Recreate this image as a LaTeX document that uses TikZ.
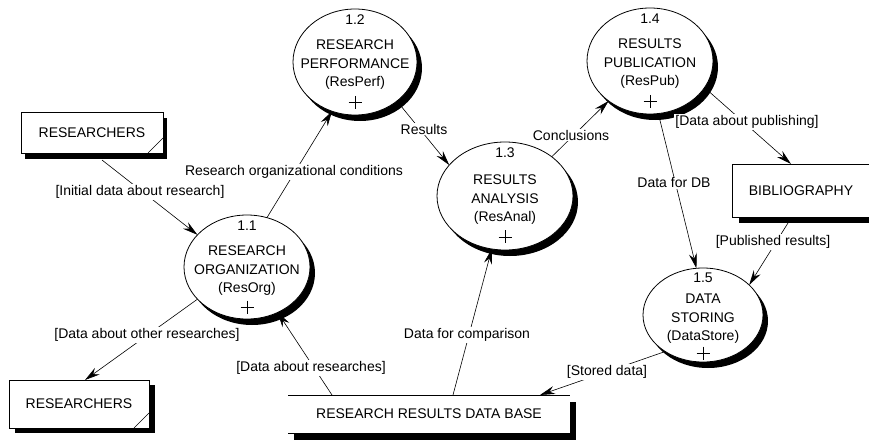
\documentclass[tikz,border=0pt]{standalone}
\usepackage{fontspec}
\setmainfont{Liberation Sans}
\usetikzlibrary{shapes.geometric,arrows.meta,calc}
\tikzset{
  every node/.style={font=\fontsize{14pt}{19pt}\selectfont},
  procshape/.style={ellipse, draw, line width=0.8pt, fill=white, inner sep=0pt, outer sep=0pt},
  procshadow/.style={ellipse, fill=black, inner sep=0pt, outer sep=0pt},
  extbox/.style={draw, line width=0.8pt, fill=white, inner sep=0pt, outer sep=0pt},
  shadowbox/.style={fill=black, inner sep=0pt, outer sep=0pt},
  flow/.style={line width=0.6pt, -{Stealth[length=15pt,width=8pt,inset=5pt]}},
  lbl/.style={fill=white, inner sep=1pt},
  ptxt/.style={anchor=base, inner sep=0pt}
}
\newcommand\procnode[8]{%
  \node[procshadow, minimum width={2*#3pt}, minimum height={2*#4pt}] at ($(#2)+(5,6)$) {};
  \node[procshape, minimum width={2*#3pt}, minimum height={2*#4pt}] (#1) at (#2) {};
  \node[ptxt] at ($(#2)+(0,{-37+0.8*(52-#4)})$) {#5};
  \node[ptxt] at ($(#2)+(0,-12)$) {#6};
  \node[ptxt] at ($(#2)+(0,7)$) {#7};
  \node[ptxt] at ($(#2)+(0,25)$) {#8};
  \draw[line width=0.6pt] ($(#2)+(-6.5,{40-0.4*(52-#4)})$) -- ($(#2)+(6.5,{40-0.4*(52-#4)})$)
                          ($(#2)+(0,{33.5-0.4*(52-#4)})$) -- ($(#2)+(0,{46.5-0.4*(52-#4)})$);
}
\begin{document}
\begin{tikzpicture}[x=1pt,y=-1pt]
\clip (0,0) rectangle (869,441);
\fill[white] (0,0) rectangle (869,441);

% external entities
\node[shadowbox, minimum width=142pt, minimum height=41pt] at (96,138.5) {};
\node[extbox, minimum width=142pt, minimum height=41pt] (r1) at (92,132.5) {RESEARCHERS};
\draw[line width=0.6pt] ([xshift=-15pt]r1.south east) -- ([yshift=15pt]r1.south east);

\node[shadowbox, minimum width=140pt, minimum height=48pt] at (85,409) {};
\node[extbox, minimum width=140pt, minimum height=48pt] (r2) at (79,404) {RESEARCHERS};
\draw[line width=0.6pt] ([xshift=-15pt]r2.south east) -- ([yshift=15pt]r2.south east);

\node[shadowbox, minimum width=138pt, minimum height=53pt] at (808,196.5) {};
\node[extbox, minimum width=138pt, minimum height=53pt] (bib) at (801,190.5) {BIBLIOGRAPHY};

% data store
\node[shadowbox, minimum width=282pt, minimum height=38pt] at (435,421) {};
\node[fill=white, inner sep=0pt, outer sep=0pt, minimum width=282pt, minimum height=38pt] (db) at (429,414) {RESEARCH RESULTS DATA BASE};
\draw[line width=0.8pt] (db.north west) -- (db.north east);
\draw[line width=0.8pt] (db.south west) -- (db.south east);

% processes
\procnode{p11}{247,267}{63}{52}{1.1}{RESEARCH}{ORGANIZATION}{(ResOrg)}
\procnode{p12}{355,62}{62}{53}{1.2}{RESEARCH}{PERFORMANCE}{(ResPerf)}
\procnode{p13}{505,196}{68}{54}{1.3}{RESULTS}{ANALYSIS}{(ResAnal)}
\procnode{p14}{650,61}{63}{53}{1.4}{RESULTS}{PUBLICATION}{(ResPub)}
\procnode{p15}{703,315}{60}{47}{1.5}{DATA}{STORING}{(DataStore)}

% flows
\draw[flow] ([xshift=10pt,yshift=-7pt]r1.south) -- (p11.147);
\draw[flow] (p11.68) -- (p12.245);
\draw[flow] (p12.317) -- (p13.151);
\draw[flow] (p13.40) -- (p14.224);
\draw[flow] (p14.334) -- ([xshift=-10pt]bib.north);
\draw[flow] (p14.279) -- (p15.98);
\draw[flow] ([xshift=-13pt,yshift=-6pt]bib.south) -- (p15.33);
\draw[flow] (p15.224) -- ([xshift=111pt]db.north);
\draw[flow] ([xshift=24pt]db.north) -- (p13.256);
\draw[flow] (p11.213) -- ([xshift=6pt]r2.north);
\draw[flow] ([xshift=-97pt]db.north) -- (p11.304);

% labels
\node[lbl] (l1) at (140,192) {[Initial data about research]};
\node[lbl] (l2) at (294,172) {Research organizational conditions};
\node[lbl] (l3) at (424,129) {Results};
\node[lbl] (l4) at (571,135) {Conclusions};
\node[lbl] (l5) at (747,122) {[Data about publishing]};
\node[lbl] (l6) at (674,183) {Data for DB};
\node[lbl] (l7) at (773,242) {[Published results]};
\node[lbl] (l8) at (607,372) {[Stored data]};
\node[lbl] (l9) at (467,335) {Data for comparison};
\node[lbl] (l10) at (147,335) {[Data about other researches]};
\node[lbl] (l11) at (311,368) {[Data about researches]};
\end{tikzpicture}
\end{document}
